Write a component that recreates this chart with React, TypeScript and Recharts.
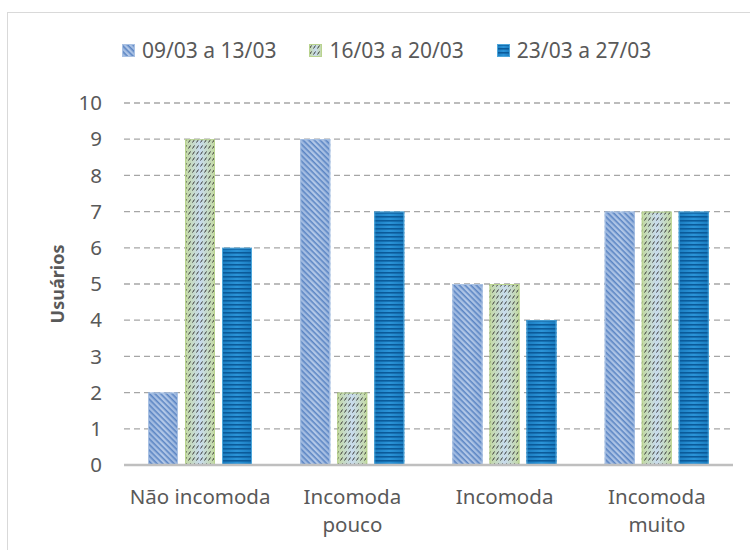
import React from "react";
import { BarChart, Bar, XAxis, YAxis, CartesianGrid, Legend } from "recharts";

const categories = ["Não incomoda", "Incomoda\npouco", "Incomoda", "Incomoda\nmuito"];
const series1 = [2, 9, 5, 7];
const series2 = [9, 2, 5, 7];
const series3 = [6, 7, 4, 7];
const seriesNames = ["09/03 a 13/03", "16/03 a 20/03", "23/03 a 27/03"];
const yTicks = [0, 1, 2, 3, 4, 5, 6, 7, 8, 9, 10];

const data = categories.map((c, i) => ({
  name: c,
  s1: series1[i],
  s2: series2[i],
  s3: series3[i],
}));

const FONT = "'Noto Sans', 'Open Sans', sans-serif";
const TEXT = "#595959";

const styles = [
  { grad: "g1", pat: "p1", stroke: "#a9c1e3" },
  { grad: "g2", pat: "p2", stroke: "#b9d38f" },
  { grad: "g3", pat: "p3", stroke: "#4ea6da" },
];

const makeShape = (k: number) => (props: any) => {
  const { x, y, width, height } = props;
  if (!height || height <= 0) return <g />;
  const st = styles[k];
  return (
    <g>
      <rect x={x} y={y} width={width} height={height} fill={`url(#${st.grad})`} />
      <rect x={x} y={y} width={width} height={height} fill={`url(#${st.pat})`} />
      <rect x={x + 0.5} y={y + 0.5} width={width - 1} height={height - 1} fill="none" stroke={st.stroke} strokeWidth={1} />
    </g>
  );
};

const Defs = () => (
  <svg width={0} height={0} style={{ position: "absolute" }}>
    <defs>
      <linearGradient id="g1" x1="0" y1="0" x2="1" y2="0">
        <stop offset="0%" stopColor="#9cb7df" />
        <stop offset="50%" stopColor="#b4c9e8" />
        <stop offset="100%" stopColor="#9cb7df" />
      </linearGradient>
      <pattern id="p1" patternUnits="userSpaceOnUse" width="4" height="4" patternTransform="rotate(45)">
        <rect x="0" y="0" width="4" height="1.6" fill="#5c86c4" />
      </pattern>
      <linearGradient id="g2" x1="0" y1="0" x2="1" y2="0">
        <stop offset="0%" stopColor="#c3d9a0" />
        <stop offset="50%" stopColor="#c8dbee" />
        <stop offset="100%" stopColor="#c3d9a0" />
      </linearGradient>
      <pattern id="p2" patternUnits="userSpaceOnUse" width="4" height="6">
        <line x1="0.5" y1="4.5" x2="2.5" y2="1.5" stroke="#3a3a3a" strokeWidth="1" />
      </pattern>
      <linearGradient id="g3" x1="0" y1="0" x2="1" y2="0">
        <stop offset="0%" stopColor="#1a7cc0" />
        <stop offset="50%" stopColor="#2b94d8" />
        <stop offset="100%" stopColor="#1a7cc0" />
      </linearGradient>
      <pattern id="p3" patternUnits="userSpaceOnUse" width="4" height="4">
        <rect x="0" y="0" width="4" height="1.6" fill="#0b5a99" />
      </pattern>
    </defs>
  </svg>
);

const XTick = (props: any) => {
  const { x, payload } = props;
  const lines = String(payload.value).split("\n");
  return (
    <text x={x} y={504} textAnchor="middle" fill={TEXT} fontSize={20.5} fontFamily={FONT}>
      {lines.map((l, i) => (
        <tspan key={i} x={x} dy={i === 0 ? 0 : 28}>
          {l}
        </tspan>
      ))}
    </text>
  );
};

const YLabel = () => (
  <text
    x={57}
    y={284}
    transform="rotate(-90 57 284)"
    textAnchor="middle"
    dominantBaseline="central"
    fill={TEXT}
    fontSize={18}
    fontWeight="bold"
    fontFamily={FONT}
  >
    Usuários
  </text>
);

const LegendContent = () => (
  <div style={{ display: "flex", fontFamily: FONT, fontSize: 21, color: TEXT, alignItems: "center" }}>
    {seriesNames.map((n, k) => (
      <div key={n} style={{ display: "flex", alignItems: "center", marginRight: 33 }}>
        <svg width={13} height={13} style={{ marginRight: 7 }}>
          {makeShape(k)({ x: 0, y: 0, width: 13, height: 13 })}
        </svg>
        <span>{n}</span>
      </div>
    ))}
  </div>
);

export default function App() {
  return (
    <div style={{ position: "absolute", left: 0, top: 0, width: 750, height: 550, overflow: "hidden", background: "#fff" }}>
      <Defs />
      <div
        style={{
          position: "absolute",
          left: 7,
          top: 12,
          width: 800,
          height: 600,
          border: "1.5px solid #d9d9d9",
          boxSizing: "border-box",
        }}
      />
      <div style={{ position: "absolute", left: 0, top: 0 }}>
        <BarChart
          width={750}
          height={550}
          data={data}
          margin={{ top: 103, right: 17, bottom: 0, left: 0 }}
          barSize={30}
          barGap={7}
        >
          <CartesianGrid vertical={false} stroke="#a6a6a6" strokeDasharray="6 4" strokeWidth={1.3} />
          <XAxis
            dataKey="name"
            axisLine={{ stroke: "#bfbfbf", strokeWidth: 2.5 }}
            tickLine={false}
            tick={<XTick />}
            interval={0}
            height={85}
          />
          <YAxis
            width={124}
            domain={[0, 10]}
            ticks={yTicks}
            interval={0}
            axisLine={false}
            tickLine={false}
            tickSize={0}
            tickMargin={22}
            tick={{ fill: TEXT, fontSize: 20.5, fontFamily: FONT }}
            label={<YLabel />}
          />
          <Legend
            verticalAlign="middle"
            content={<LegendContent />}
            wrapperStyle={{ top: 36, left: 122, width: 620, height: 29 }}
          />
          <Bar dataKey="s1" name={seriesNames[0]} shape={makeShape(0)} isAnimationActive={false} />
          <Bar dataKey="s2" name={seriesNames[1]} shape={makeShape(1)} isAnimationActive={false} />
          <Bar dataKey="s3" name={seriesNames[2]} shape={makeShape(2)} isAnimationActive={false} />
        </BarChart>
      </div>
    </div>
  );
}
